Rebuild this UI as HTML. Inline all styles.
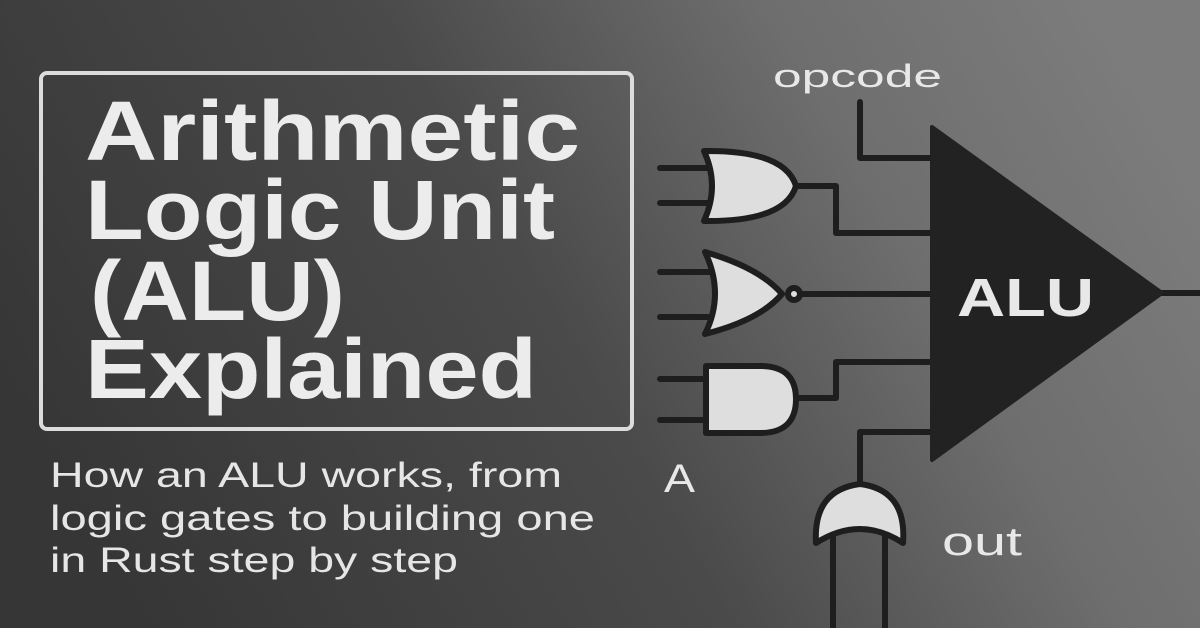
<!DOCTYPE html>
<html><head><meta charset="utf-8"><style>
html,body{margin:0;padding:0;width:1200px;height:628px;overflow:hidden;}
svg{display:block}
</style></head><body>
<svg width="1200" height="628" viewBox="0 0 1200 628" xmlns="http://www.w3.org/2000/svg">
<defs>
<linearGradient id="bg" x1="0" y1="0.6" x2="1" y2="0.3">
<stop offset="0" stop-color="#363636"/>
<stop offset="0.45" stop-color="#4a4a4a"/>
<stop offset="0.75" stop-color="#6e6e6e"/>
<stop offset="1" stop-color="#7c7c7c"/>
</linearGradient>
</defs>
<rect width="1200" height="628" fill="url(#bg)"/>
<rect x="41" y="73" width="591" height="356" rx="6" fill="none" stroke="#dcdcdc" stroke-width="4"/>
<g font-family="Liberation Sans, sans-serif" fill="#ececec" font-weight="bold" font-size="84">
<text x="85" y="160" textLength="495" lengthAdjust="spacingAndGlyphs">Arithmetic</text>
<text x="85" y="239" textLength="470" lengthAdjust="spacingAndGlyphs">Logic Unit</text>
<text x="90" y="320" textLength="255" lengthAdjust="spacingAndGlyphs">(ALU)</text>
<text x="85" y="398" textLength="452" lengthAdjust="spacingAndGlyphs">Explained</text>
</g>
<g font-family="Liberation Sans, sans-serif" fill="#e6e6e6" font-size="35">
<text x="50" y="487" textLength="512" lengthAdjust="spacingAndGlyphs">How an ALU works, from</text>
<text x="50" y="530" textLength="545" lengthAdjust="spacingAndGlyphs">logic gates to building one</text>
<text x="50" y="572" textLength="408" lengthAdjust="spacingAndGlyphs">in Rust step by step</text>
</g>
<g stroke="#1e1e1e" stroke-width="6" fill="none" stroke-linecap="round" stroke-linejoin="round">
<polyline points="860,102 860,158 934,158"/>
<polyline points="795,186 836,186 836,233 934,233"/>
<line x1="800" y1="294" x2="934" y2="294"/>
<polyline points="795,398 836,398 836,362 934,362"/>
<polyline points="934,432 860,432 860,484"/>
<line x1="1160" y1="293" x2="1200" y2="293"/>
<line x1="660" y1="168" x2="710" y2="168"/>
<line x1="660" y1="203" x2="710" y2="203"/>
<line x1="660" y1="272" x2="712" y2="272"/>
<line x1="660" y1="317" x2="712" y2="317"/>
<line x1="660" y1="379" x2="708" y2="379"/>
<line x1="660" y1="420" x2="708" y2="420"/>
<line x1="833" y1="528" x2="833" y2="628"/>
<line x1="885" y1="528" x2="885" y2="628"/>
</g>
<polygon points="932,127 1162,293 932,460" fill="#222" stroke="#222" stroke-width="4" stroke-linejoin="round"/>
<g fill="#dedede" stroke="#1e1e1e" stroke-width="6" stroke-linejoin="round">
<path d="M704,151 Q785,150 796,186 Q785,222 704,221 Q720,186 704,151 Z"/>
<path d="M705,252 Q760,268 782,294 Q760,320 705,334 Q725,294 705,252 Z"/>
<circle cx="794" cy="294" r="6"/>
<path d="M706,366 L760,366 Q796,366 796,399 Q796,433 760,433 L706,433 Z"/>
<path d="M816,543 Q813,490 860,484 Q907,490 903,543 Q860,515 816,543 Z"/>
</g>
<g font-family="Liberation Sans, sans-serif" fill="#e8e8e8">
<text x="773" y="87" font-size="32" textLength="169" lengthAdjust="spacingAndGlyphs">opcode</text>
<text x="957" y="316" font-size="54" font-weight="bold" textLength="137" lengthAdjust="spacingAndGlyphs">ALU</text>
<text x="664" y="492" font-size="40" textLength="31" lengthAdjust="spacingAndGlyphs">A</text>
<text x="942" y="555" font-size="40" textLength="80" lengthAdjust="spacingAndGlyphs">out</text>
</g>
</svg>
</body></html>
